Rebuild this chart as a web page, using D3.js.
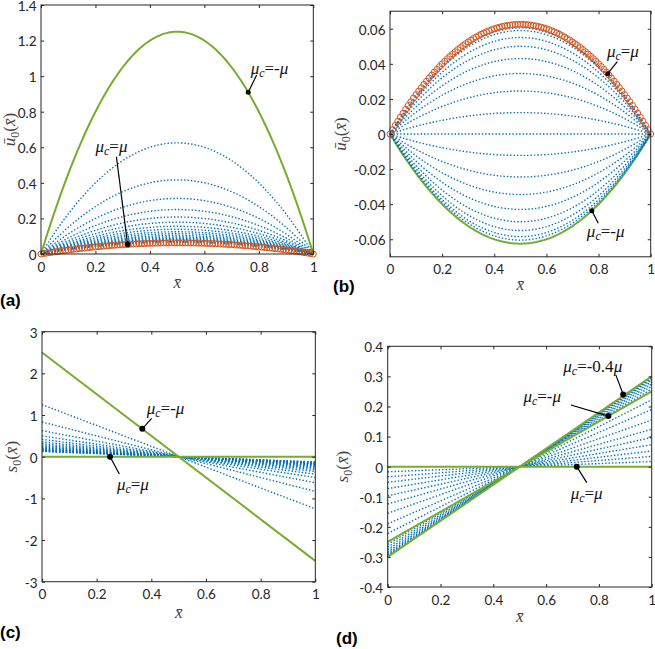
<!DOCTYPE html>
<html><head><meta charset="utf-8">
<script src="https://cdn.jsdelivr.net/npm/d3@7"></script>
<style>body{margin:0;background:#fff} svg{display:block}</style>
</head><body>
<svg id="chart" width="655" height="649"></svg>
<script>
// ---------- data ----------
const xTicks = [0, 0.2, 0.4, 0.6, 0.8, 1];
const xTickLabels = ["0", "0.2", "0.4", "0.6", "0.8", "1"];

// panel (a): peak value (at x=0.5) of each parabolic profile
const aTicks = [0, 0.2, 0.4, 0.6, 0.8, 1, 1.2, 1.4];
const aTickLabels = ["0", "0.2", "0.4", "0.6", "0.8", "1", "1.2", "1.4"];
const aGreenPeaks = [1.25];
const aOrangePeaks = [0.0625];
const aBluePeaks = [0.625, 0.417, 0.3125, 0.25, 0.208, 0.179, 0.156, 0.139, 0.125, 0.114, 0.104, 0.096, 0.089, 0.083, 0.078, 0.0735, 0.0695, 0.066];

// panel (b)
const bTicks = [-0.06, -0.04, -0.02, 0, 0.02, 0.04, 0.06];
const bTickLabels = ["-0.06", "-0.04", "-0.02", "0", "0.02", "0.04", "0.06"];
const bGreenPeaks = [-0.0625];
const bOrangePeaks = [0.0625];
const bBluePeaks = [0.0605, 0.059, 0.055, 0.050, 0.043, 0.0345, 0.0245, 0.0122, 0, -0.0122, -0.0245, -0.0345, -0.043, -0.050, -0.055, -0.0585, -0.0605];

// panel (c): value at x=0 of each straight line (line passes through (0.5,0))
const cTicks = [-3, -2, -1, 0, 1, 2, 3];
const cTickLabels = ["-3", "-2", "-1", "0", "1", "2", "3"];
const cGreenIntercepts = [2.5, 0];
const cBlueIntercepts = [1.25, 0.833, 0.625, 0.5, 0.417, 0.357, 0.3125, 0.278, 0.25, 0.227, 0.208, 0.192, 0.179, 0.167, 0.156, 0.147, 0.139, 0.132, 0.125];

// panel (d)
const dTicks = [-0.4, -0.3, -0.2, -0.1, 0, 0.1, 0.2, 0.3, 0.4];
const dTickLabels = ["-0.4", "-0.3", "-0.2", "-0.1", "0", "0.1", "0.2", "0.3", "0.4"];
const dGreenIntercepts = [-0.25, -0.3, 0];
const dBlueIntercepts = [-0.017, -0.034, -0.052, -0.073, -0.097, -0.124, -0.155, -0.19, -0.222, -0.258, -0.267, -0.275, -0.282, -0.288, -0.292, -0.296, -0.298];

// ---------- styling ----------
const BLUE = "#0072BD", GREEN = "#77AC30", ORANGE = "#D95319", AX = "#262626";
const tickFont = "Lato, 'Open Sans', sans-serif";
const mathFont = "'Liberation Serif', 'DejaVu Serif', serif";
const svg = d3.select("#chart");
const xGrid = d3.range(0, 101).map(i => i / 100);

function panel(o) {
  const x = d3.scaleLinear().domain([0, 1]).range([o.x0, o.x1]);
  const y = d3.scaleLinear().domain(o.yDom).range([o.y0, o.y1]);
  const g = svg.append("g");
  const plot = g.append("g");
  const ax = g.append("g");
  ax.append("g").attr("transform", `translate(0,${o.y0})`)
    .call(d3.axisBottom(x).tickValues(xTicks).tickFormat((d, i) => xTickLabels[i]).tickSizeInner(-3).tickSizeOuter(0).tickPadding(8));
  ax.append("g").attr("transform", `translate(0,${o.y1})`)
    .call(d3.axisTop(x).tickValues(xTicks).tickFormat("").tickSizeInner(-3).tickSizeOuter(0));
  const yl0 = ax.append("g").attr("transform", `translate(${o.x0},0)`)
    .call(d3.axisLeft(y).tickValues(o.ticks).tickFormat((d, i) => o.tickLabels[i]).tickSizeInner(-3).tickSizeOuter(0).tickPadding(4.5));
  yl0.selectAll(".tick text").attr("dy", "0.4em");
  ax.append("g").attr("transform", `translate(${o.x1},0)`)
    .call(d3.axisRight(y).tickValues(o.ticks).tickFormat("").tickSizeInner(-3).tickSizeOuter(0));
  ax.selectAll(".domain").remove();
  ax.selectAll(".tick line").attr("stroke", AX);
  ax.selectAll(".tick text").attr("fill", AX).style("font-family", tickFont).style("font-size", "13.5px");
  g.append("rect").attr("x", o.x0).attr("y", o.y1).attr("width", o.x1 - o.x0).attr("height", o.y0 - o.y1)
    .attr("fill", "none").attr("stroke", AX).attr("stroke-width", 1);
  // x label
  const xl = g.append("text").attr("x", (o.x0 + o.x1) / 2).attr("y", o.xlY).attr("text-anchor", "middle")
    .style("font-family", mathFont).style("font-size", "17px").attr("fill", "#444");
  xl.append("tspan").style("font-style", "italic").text("x\u0304");
  // y label
  const yl = g.append("text").attr("transform", `translate(${o.ylX},${(o.y0 + o.y1) / 2}) rotate(-90)`)
    .attr("text-anchor", "middle").style("font-family", mathFont).style("font-size", "17px").attr("fill", "#444");
  yl.append("tspan").style("font-style", "italic").text(o.ySym);
  yl.append("tspan").attr("dy", 4).style("font-size", "12px").text("0");
  yl.append("tspan").attr("dy", -4).text("(");
  yl.append("tspan").style("font-style", "italic").text("x\u0304");
  yl.append("tspan").text(")");
  // panel letter
  g.append("text").attr("x", o.lx).attr("y", o.ly).text(o.letter)
    .style("font-family", "'Liberation Sans', Arial, sans-serif").style("font-weight", "bold").style("font-size", "17px").attr("fill", "#000");
  return {x, y, plot, g};
}

function parab(x, y, peak) {
  return d3.line().x(d => x(d)).y(d => y(4 * peak * d * (1 - d)))(xGrid);
}
function straight(x, y, c) {
  return d3.line().x(d => x(d)).y(d => y(c * (1 - 2 * d)))([0, 1]);
}
function blueStyle(sel) {
  sel.attr("fill", "none").attr("stroke", BLUE).attr("stroke-width", 1.4).attr("stroke-dasharray", "1.4,2");
}
function greenStyle(sel) {
  sel.attr("fill", "none").attr("stroke", GREEN).attr("stroke-width", 2);
}
function orangeMarkers(P, peak) {
  P.plot.append("g").selectAll("circle").data(xGrid).join("circle")
    .attr("cx", d => P.x(d)).attr("cy", d => P.y(4 * peak * d * (1 - d))).attr("r", 3)
    .attr("fill", "none").attr("stroke", ORANGE).attr("stroke-width", 1);
}
function annotate(P, a) {
  const g = P.g.append("g");
  g.append("line").attr("x1", P.x(a.from[0])).attr("y1", P.y(a.from[1]))
    .attr("x2", P.x(a.dot[0])).attr("y2", P.y(a.dot[1])).attr("stroke", "#000").attr("stroke-width", 1.2);
  g.append("circle").attr("cx", P.x(a.dot[0])).attr("cy", P.y(a.dot[1])).attr("r", a.r || 2.5).attr("fill", "#000");
  const t = g.append("text").attr("x", P.x(a.text[0])).attr("y", P.y(a.text[1]) + 5)
    .style("font-family", mathFont).style("font-size", "17px").attr("fill", "#111");
  t.append("tspan").style("font-style", "italic").text("\u03bc");
  t.append("tspan").attr("dy", 3).style("font-style", "italic").style("font-size", "12px").text("c");
  t.append("tspan").attr("dy", -3).text("=" + a.rhs);
  t.append("tspan").style("font-style", "italic").text("\u03bc");
}

// ---------- panel (a) ----------
const A = panel({x0: 41, x1: 313.3, y0: 254, y1: 5, yDom: [0, 1.4], ticks: aTicks, tickLabels: aTickLabels,
  xlY: 288, ylX: 15, ySym: "\u016b", letter: "(a)", lx: 0, ly: 306});
A.plot.selectAll(".b").data(aBluePeaks).join("path").attr("d", p => parab(A.x, A.y, p)).call(blueStyle);
A.plot.selectAll(".g").data(aGreenPeaks).join("path").attr("d", p => parab(A.x, A.y, p)).call(greenStyle);
aOrangePeaks.forEach(p => orangeMarkers(A, p));
annotate(A, {dot: [0.761, 0.91], from: [0.792, 1.006], text: [0.77, 1.04], rhs: "-"});
annotate(A, {dot: [0.318, 0.054], from: [0.277, 0.547], text: [0.2, 0.601], rhs: "", r: 2.8});

// ---------- panel (b) ----------
const B = panel({x0: 390, x1: 650.7, y0: 256.8, y1: 11.2, yDom: [-0.07, 0.07], ticks: bTicks, tickLabels: bTickLabels,
  xlY: 290, ylX: 346, ySym: "\u016b", letter: "(b)", lx: 333, ly: 292});
B.plot.selectAll(".g").data(bGreenPeaks).join("path").attr("d", p => parab(B.x, B.y, p)).call(greenStyle);
B.plot.selectAll(".b").data(bBluePeaks).join("path").attr("d", p => parab(B.x, B.y, p)).call(blueStyle);
bOrangePeaks.forEach(p => orangeMarkers(B, p));
annotate(B, {dot: [0.835, 0.0344], from: [0.872, 0.0412], text: [0.832, 0.0467], rhs: ""});
annotate(B, {dot: [0.774, -0.0437], from: [0.799, -0.0509], text: [0.755, -0.0557], rhs: "-"});

// ---------- panel (c) ----------
const C = panel({x0: 42, x1: 315.3, y0: 581.7, y1: 331.7, yDom: [-3, 3], ticks: cTicks, tickLabels: cTickLabels,
  xlY: 618, ylX: 17, ySym: "s", letter: "(c)", lx: 0, ly: 638});
C.plot.selectAll(".b").data(cBlueIntercepts).join("path").attr("d", c => straight(C.x, C.y, c)).call(blueStyle);
C.plot.selectAll(".g").data(cGreenIntercepts).join("path").attr("d", c => straight(C.x, C.y, c)).call(greenStyle);
annotate(C, {dot: [0.367, 0.67], from: [0.401, 0.92], text: [0.383, 1.14], rhs: "-", r: 3});
annotate(C, {dot: [0.249, 0], from: [0.283, -0.415], text: [0.274, -0.68], rhs: "", r: 3});

// ---------- panel (d) ----------
const D = panel({x0: 387.7, x1: 651.7, y0: 587, y1: 346.3, yDom: [-0.4, 0.4], ticks: dTicks, tickLabels: dTickLabels,
  xlY: 622, ylX: 348, ySym: "s", letter: "(d)", lx: 336, ly: 644});
D.plot.selectAll(".b").data(dBlueIntercepts).join("path").attr("d", c => straight(D.x, D.y, c)).call(blueStyle);
D.plot.selectAll(".g").data(dGreenIntercepts).join("path").attr("d", c => straight(D.x, D.y, c)).call(greenStyle);
annotate(D, {dot: [0.892, 0.24], from: [0.864, 0.305], text: [0.665, 0.332], rhs: "-0.4", r: 3});
annotate(D, {dot: [0.836, 0.168], from: [0.694, 0.205], text: [0.514, 0.231], rhs: "-", r: 3});
annotate(D, {dot: [0.716, 0], from: [0.754, -0.053], text: [0.693, -0.091], rhs: "", r: 3});
</script>
</body></html>
